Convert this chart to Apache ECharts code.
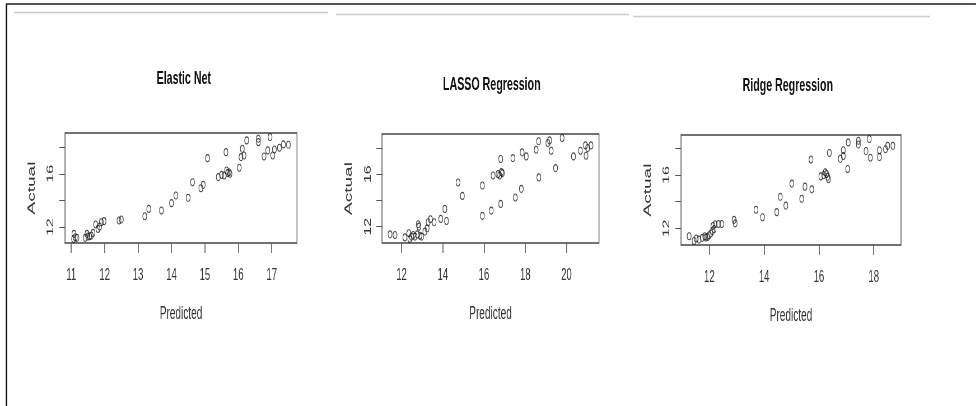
<!DOCTYPE html>
<html>
<head>
<meta charset="utf-8">
<script src="https://cdn.jsdelivr.net/npm/echarts@6/dist/echarts.min.js"></script>
<style>
html,body{margin:0;padding:0;background:#fff;overflow:hidden;}
#chart{height:406px;transform-origin:0 0;}
</style>
</head>
<body>
<div id="chart"></div>
<script>
// the source picture is an R plot squeezed sideways, so draw wide and squeeze it back
var S = 0.56;

// Elastic Net
var enPred = [11.08,11.12,11.17,11.07,11.42,11.47,11.5,11.55,11.6,11.65,11.73,11.8,11.85,11.9,11.98,12.43,12.5,13.2,13.32,13.7,14.0,14.13,14.5,14.63,14.88,14.95,15.08,15.4,15.5,15.58,15.63,15.65,15.68,15.72,15.75,16.03,16.08,16.12,16.17,16.25,16.6,16.6,16.77,16.88,16.95,17.03,17.08,17.23,17.35,17.5];
var enAct  = [11.5,11.25,11.2,11.12,11.2,11.5,11.3,11.32,11.37,11.57,12.2,11.87,12.05,12.37,12.45,12.5,12.57,12.82,13.37,13.25,13.8,14.37,14.2,15.37,14.92,15.17,17.17,15.75,15.92,15.87,17.62,16.25,16.05,16.12,16.0,16.45,17.25,17.87,17.37,18.5,18.62,18.37,17.3,17.75,18.75,17.37,17.82,17.95,18.2,18.17];

// LASSO
var lassoPred = [11.44,11.68,12.16,12.35,12.4,12.48,12.56,12.65,12.76,12.81,12.84,12.89,12.97,13.13,13.24,13.29,13.4,13.58,13.9,14.1,14.18,14.74,14.95,15.92,15.92,16.35,16.44,16.68,16.76,16.81,16.84,16.89,16.81,17.4,17.52,17.81,17.85,18.05,18.53,18.65,18.66,19.1,19.18,19.26,19.47,19.79,20.34,20.68,20.92,20.95,21.03,21.19];
var lassoAct  = [11.41,11.36,11.18,11.49,11.06,11.24,11.36,11.24,11.41,12.18,12.0,11.31,11.24,11.62,11.87,12.33,12.56,12.33,12.59,13.35,12.43,15.36,14.34,15.13,12.82,13.22,15.9,16.0,15.9,17.15,16.15,16.08,13.73,17.22,14.22,14.88,17.66,17.35,17.86,18.5,15.75,18.37,18.57,17.78,16.46,18.75,17.35,17.78,18.19,17.4,17.99,18.19];

// Ridge
var ridgePred = [11.26,11.44,11.52,11.62,11.74,11.83,11.87,11.93,11.99,12.05,12.11,12.13,12.17,12.21,12.33,12.45,12.9,12.94,13.7,13.94,14.46,14.59,14.79,15.01,15.37,15.49,15.71,15.74,16.07,16.17,16.23,16.28,16.32,16.35,16.38,16.78,16.89,16.89,17.05,17.07,17.44,17.44,17.72,17.84,17.88,18.21,18.21,18.43,18.51,18.7];
var ridgeAct  = [11.41,11.06,11.24,11.16,11.29,11.41,11.31,11.36,11.49,11.62,11.8,12.18,11.95,12.31,12.33,12.33,12.64,12.38,13.4,12.84,13.22,14.37,13.71,15.36,14.22,15.13,17.17,14.93,15.9,16.0,16.2,16.08,15.87,15.69,17.66,17.22,17.86,17.43,16.46,18.45,18.57,18.29,17.8,18.7,17.3,17.86,17.35,17.94,18.19,18.19];

var titles = ['Elastic Net','LASSO Regression','Ridge Regression'];
var xTicks = [[11,12,13,14,15,16,17],[12,14,16,18,20],[12,14,16,18]];
var yTicks = [12,14,16,18];
var yLabels = [12,16];

var preds = [enPred, lassoPred, ridgePred];
var acts = [enAct, lassoAct, ridgeAct];

// screen boxes of the three plots
var boxes = [
    {left:65, right:297, top:133, bottom:243, tx:181, ty:64},
    {left:382, right:599, top:134, bottom:243, tx:489, ty:70},
    {left:681, right:901, top:135, bottom:245, tx:785, ty:71}
];

function px(x){ return x / S; }

// R style axis range: data range widened by 4% each side
function rng(a){
    var lo = Math.min.apply(null, a), hi = Math.max.apply(null, a);
    var d = (hi - lo) * 0.04;
    return [lo - d, hi + d];
}

var font = "'Liberation Sans', Arial, sans-serif";
var grid = [], xAxis = [], yAxis = [], series = [], title = [];

boxes.forEach(function(b, i){
    grid.push({
        left: px(b.left), top: b.top,
        width: px(b.right - b.left), height: b.bottom - b.top,
        show: true, borderColor: '#444', borderWidth: 1.4, backgroundColor: 'transparent'
    });
    var xr = rng(preds[i]), yr = rng(acts[i]);
    xAxis.push({
        type: 'value', gridIndex: i, min: xr[0], max: xr[1],
        axisLine: {show: false},
        splitLine: {show: false},
        axisTick: {show: true, customValues: xTicks[i], length: 10, lineStyle: {color: '#555', width: 1.6}},
        axisLabel: {customValues: xTicks[i], margin: 24, fontSize: 17, color: '#333', fontFamily: font},
        name: 'Predicted', nameLocation: 'middle', nameGap: 62,
        nameTextStyle: {fontSize: 18, color: '#333', fontFamily: font}
    });
    yAxis.push({
        type: 'value', gridIndex: i, min: yr[0], max: yr[1],
        axisLine: {show: false},
        splitLine: {show: false},
        axisTick: {show: true, customValues: yTicks, length: 10, lineStyle: {color: '#555', width: 1}},
        axisLabel: {customValues: yLabels, rotate: 90, margin: 17, fontSize: 16, color: '#333', fontFamily: font},
        name: 'Actual', nameLocation: 'middle', nameGap: 50,
        nameTextStyle: {fontSize: 19, color: '#333', fontFamily: font}
    });
    series.push({
        type: 'scatter', xAxisIndex: i, yAxisIndex: i,
        data: preds[i].map(function(v, k){ return [v, acts[i][k]]; }),
        symbol: 'circle', symbolSize: 7,
        itemStyle: {color: 'rgba(0,0,0,0)', borderColor: '#1a1a1a', borderWidth: 1.1},
        silent: true
    });
    title.push({
        text: titles[i], left: px(b.tx), top: b.ty, textAlign: 'center',
        textStyle: {fontSize: 19, fontWeight: 'bold', color: '#111', fontFamily: font}
    });
});

var el = document.getElementById('chart');
el.style.width = px(976) + 'px';
el.style.transform = 'scaleX(' + S + ')';

var option = {
    animation: false,
    backgroundColor: '#fff',
    title: title,
    grid: grid,
    xAxis: xAxis,
    yAxis: yAxis,
    series: series,
    graphic: [
        {type: 'line', shape: {x1: px(6), y1: 4, x2: px(976), y2: 4}, style: {stroke: '#555', lineWidth: 2}},
        {type: 'line', shape: {x1: px(6.5), y1: 4, x2: px(6.5), y2: 406}, style: {stroke: '#111', lineWidth: px(1.5)}},
        {type: 'line', shape: {x1: px(14), y1: 12.5, x2: px(328), y2: 12.5}, style: {stroke: '#ccc', lineWidth: 1.5}},
        {type: 'line', shape: {x1: px(336), y1: 14.5, x2: px(629), y2: 14.5}, style: {stroke: '#ccc', lineWidth: 1.5}},
        {type: 'line', shape: {x1: px(633), y1: 16.5, x2: px(930), y2: 16.5}, style: {stroke: '#ccc', lineWidth: 1.5}}
    ]
};

var myChart = echarts.init(el);
myChart.setOption(option);
</script>
</body>
</html>
